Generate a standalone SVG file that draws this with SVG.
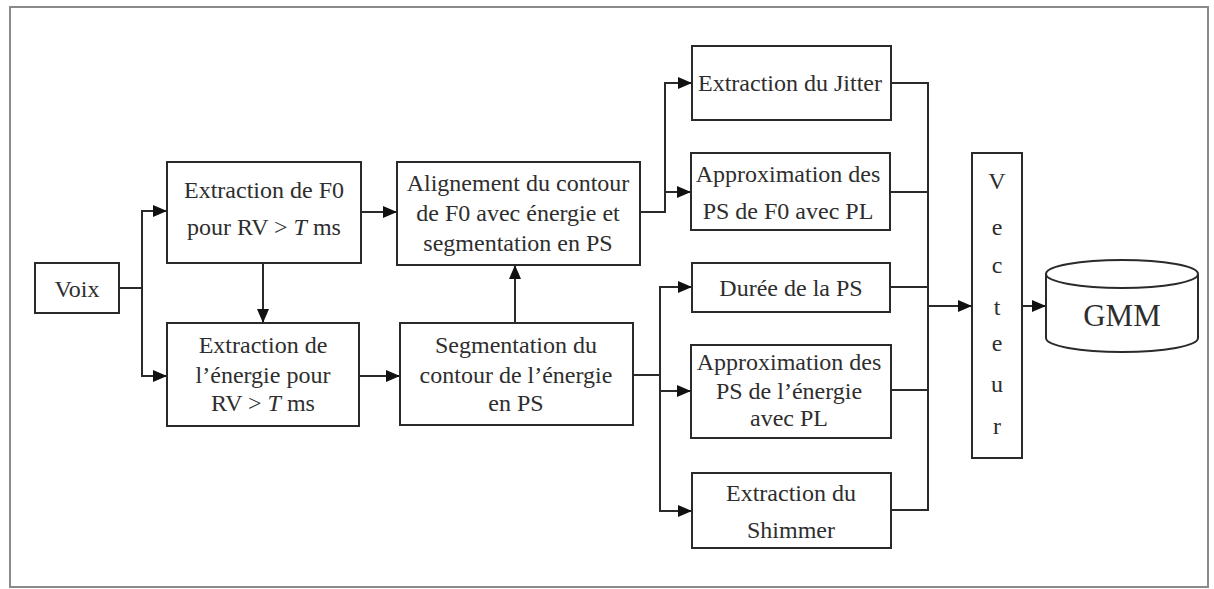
<svg xmlns="http://www.w3.org/2000/svg" width="1214" height="589" viewBox="0 0 1214 589">
<style>
.box{fill:#fff;stroke:#2a2a2a;stroke-width:2}
.frame{fill:#fff;stroke:#8a8a8a;stroke-width:2}
.t{font-family:'Liberation Serif','Times New Roman',Tinos,'DejaVu Serif',serif;font-size:24px;fill:#2e2e2e;text-anchor:middle}
.big{font-size:31px}
.c{fill:none;stroke:#2a2a2a;stroke-width:2}
</style>
<defs>
<marker id="ah" viewBox="0 0 14 12" refX="14" refY="6" markerWidth="14" markerHeight="12" markerUnits="userSpaceOnUse" orient="auto">
<path d="M0,0 L14,6 L0,12 z" fill="#111"/>
</marker>
</defs>
<rect class="frame" x="10" y="7" width="1198" height="580"/>

<g id="connectors">
<path class="c" d="M119,288 H142 V211 H167" marker-end="url(#ah)"/>
<path class="c" d="M142,288 V376 H167" marker-end="url(#ah)"/>
<path class="c" d="M263,263 V323" marker-end="url(#ah)"/>
<path class="c" d="M361,212 H397" marker-end="url(#ah)"/>
<path class="c" d="M359,376 H400" marker-end="url(#ah)"/>
<path class="c" d="M515,323 V265" marker-end="url(#ah)"/>
<path class="c" d="M640,212 H665 V83 H692" marker-end="url(#ah)"/>
<path class="c" d="M665,192 H691" marker-end="url(#ah)"/>
<path class="c" d="M633,375 H660 V287 H692" marker-end="url(#ah)"/>
<path class="c" d="M660,391 H691" marker-end="url(#ah)"/>
<path class="c" d="M660,375 V511 H692" marker-end="url(#ah)"/>
<path class="c" d="M891,83 H928 V510 H891"/>
<path class="c" d="M890,192 H928 M891,287 H928 M891,390 H928"/>
<path class="c" d="M928,306 H972" marker-end="url(#ah)"/>
<path class="c" d="M1022,306 H1046" marker-end="url(#ah)"/>
</g>

<g id="voix">
<rect class="box" x="35" y="263" width="84" height="50"/>
<text class="t" x="77" y="297" font-family="Liberation Serif, serif">Voix</text>
</g>

<g id="extraction-f0">
<rect class="box" x="167" y="162" width="194" height="101"/>
<text class="t" x="264" y="198">Extraction de F0</text>
<text class="t" x="264" y="235">pour RV &gt; <tspan font-style="italic">T</tspan> ms</text>
</g>

<g id="extraction-energie">
<rect class="box" x="167" y="323" width="192" height="103"/>
<text class="t" x="263" y="353">Extraction de</text>
<text class="t" x="263" y="383">l’énergie pour</text>
<text class="t" x="263" y="411">RV &gt; <tspan font-style="italic">T</tspan> ms</text>
</g>

<g id="alignement">
<rect class="box" x="397" y="162" width="243" height="103"/>
<text class="t" x="518" y="191">Alignement du contour</text>
<text class="t" x="518" y="221">de F0 avec énergie et</text>
<text class="t" x="518" y="251">segmentation en PS</text>
</g>

<g id="segmentation">
<rect class="box" x="400" y="323" width="233" height="102"/>
<text class="t" x="516" y="353">Segmentation du</text>
<text class="t" x="516" y="383">contour de l’énergie</text>
<text class="t" x="516" y="411">en PS</text>
</g>

<g id="jitter">
<rect class="box" x="692" y="46" width="199" height="74"/>
<text class="t" x="790" y="91">Extraction du Jitter</text>
</g>

<g id="approx-f0">
<rect class="box" x="691" y="153" width="199" height="77"/>
<text class="t" x="788" y="182">Approximation des</text>
<text class="t" x="788" y="219">PS de F0 avec PL</text>
</g>

<g id="duree">
<rect class="box" x="692" y="263" width="198" height="49"/>
<text class="t" x="791" y="296">Durée de la PS</text>
</g>

<g id="approx-energie">
<rect class="box" x="691" y="345" width="200" height="93"/>
<text class="t" x="789" y="370">Approximation des</text>
<text class="t" x="789" y="399">PS de l’énergie</text>
<text class="t" x="789" y="426">avec PL</text>
</g>

<g id="shimmer">
<rect class="box" x="692" y="473" width="199" height="75"/>
<text class="t" x="791" y="501">Extraction du</text>
<text class="t" x="791" y="538">Shimmer</text>
</g>

<g id="vecteur">
<rect class="box" x="972" y="153" width="50" height="305"/>
<text class="t" x="997" y="189">V</text>
<text class="t" x="997" y="235">e</text>
<text class="t" x="997" y="273">c</text>
<text class="t" x="997" y="315">t</text>
<text class="t" x="997" y="351">e</text>
<text class="t" x="997" y="392">u</text>
<text class="t" x="997" y="434">r</text>
</g>

<g id="gmm">
<path class="box" d="M1046,274 V338 A76,14 0 0 0 1198,338 V274"/>
<ellipse class="box" cx="1122" cy="274" rx="76" ry="14"/>
<text class="t big" x="1122" y="326">GMM</text>
</g>
</svg>
